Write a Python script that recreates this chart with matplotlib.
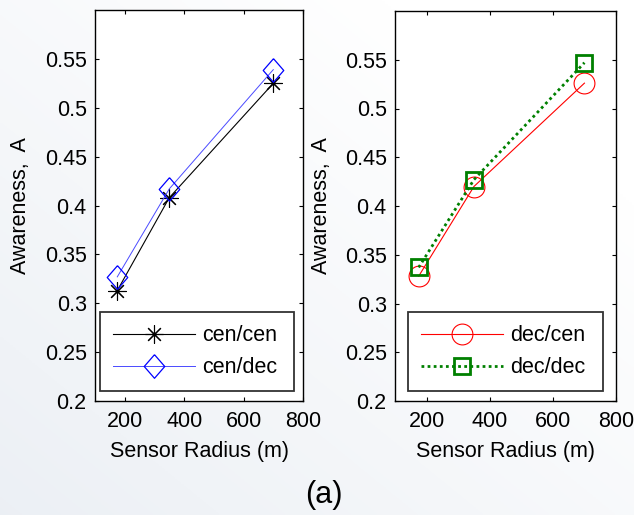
import numpy as np
import matplotlib
matplotlib.use("Agg")
import matplotlib.pyplot as plt

plt.rcParams['font.family'] = ['Liberation Sans', 'DejaVu Sans']

radius = [175, 350, 700]
cen_cen = [0.313, 0.408, 0.525]
cen_dec = [0.327, 0.417, 0.539]
dec_cen = [0.328, 0.420, 0.526]
dec_dec = [0.337, 0.427, 0.547]
xticks = [200, 400, 600, 800]
yticks = [0.2, 0.25, 0.3, 0.35, 0.4, 0.45, 0.5, 0.55]
ytick_labels = ['0.2', '0.25', '0.3', '0.35', '0.4', '0.45', '0.5', '0.55']

W, H = 634, 515
FS = 15.5
fig = plt.figure(figsize=(W/100, H/100), dpi=100)

# background gradient
bg = fig.add_axes([0, 0, 1, 1], zorder=-10)
yy, xx = np.mgrid[0:1:200j, 0:1:200j]
t = np.clip((xx + (1 - yy)) / 1.6, 0, 1)  # 0 at top-left
c0 = np.array([0.925, 0.94, 0.96])
c1 = np.array([1.0, 1.0, 1.0])
img = c0[None, None, :] * (1 - t[..., None]) + c1[None, None, :] * t[..., None]
bg.imshow(img, aspect='auto', extent=[0, 1, 0, 1], origin='upper')
bg.axis('off')

def px(x0, y0, x1, y1):
    return [x0/W, 1 - y1/H, (x1-x0)/W, (y1-y0)/H]

ax1 = fig.add_axes(px(95, 10, 303, 401))
ax2 = fig.add_axes(px(395, 11, 616, 401))

diamond = [(0, 1.15), (1, 0), (0, -1.15), (-1, 0), (0, 1.15)]

ax1.plot(radius, cen_cen, color='black', lw=0.8, marker=(8, 2, 0), ms=13, mew=0.8,
         label='cen/cen')
ax1.plot(radius, cen_dec, color='#4a4aff', lw=0.7, marker=diamond, ms=17, mfc='none',
         mec='blue', mew=0.9, label='cen/dec')
ax2.plot(radius, dec_cen, color='red', lw=0.8, marker='o', ms=15, mfc='none',
         mew=0.8, label='dec/cen')
ax2.plot(radius, dec_dec, color='#008000', lw=2, ls=(0, (1, 1.2)), marker='s', ms=12,
         mfc='none', mec='#008000', mew=2, label='dec/dec')

legpos = {ax1: (100, 294), ax2: (408, 603)}
axpos = {ax1: (95, 303, 10, 401), ax2: (395, 616, 11, 401)}
ylab_x = {ax1: 20, ax2: 321}

for ax in (ax1, ax2):
    x0a, x1a, y0a, y1a = axpos[ax]
    aw, ah = x1a - x0a, y1a - y0a
    ax.set_xlim(100, 800)
    ax.set_ylim(0.2, 0.6)
    ax.set_xticks(xticks)
    ax.set_yticks(yticks)
    ax.set_yticklabels(ytick_labels)
    ax.tick_params(direction='in', top=True, right=True, labelsize=FS, length=3,
                   width=0.8)
    ax.tick_params(axis='x', pad=7)
    ax.tick_params(axis='y', pad=6)
    for s in ax.spines.values():
        s.set_linewidth(1.0)
    ax.set_facecolor('white')
    ax.set_xlabel('Sensor Radius (m)', fontsize=FS, va='center')
    ax.xaxis.set_label_coords(0.5, (y1a - 452) / ah)
    ax.set_ylabel('Awareness,  A', fontsize=FS, va='center')
    ax.yaxis.set_label_coords((ylab_x[ax] - x0a) / aw, 0.5)
    lx0, lx1 = legpos[ax]
    leg = ax.legend(loc='lower left', fontsize=FS, handlelength=3.8, frameon=True,
                    fancybox=False, edgecolor='black', borderpad=0.6,
                    labelspacing=0.5, handletextpad=0.35, borderaxespad=0,
                    mode='expand',
                    bbox_to_anchor=((lx0 - x0a) / aw, (y1a - 391) / ah,
                                    (lx1 - lx0) / aw, 0))
    leg.get_frame().set_linewidth(1.3)

fig.text(324/W, 1 - 495/H, '(a)', ha='center', va='center', fontsize=22)

fig.savefig('out.png', dpi=100)
